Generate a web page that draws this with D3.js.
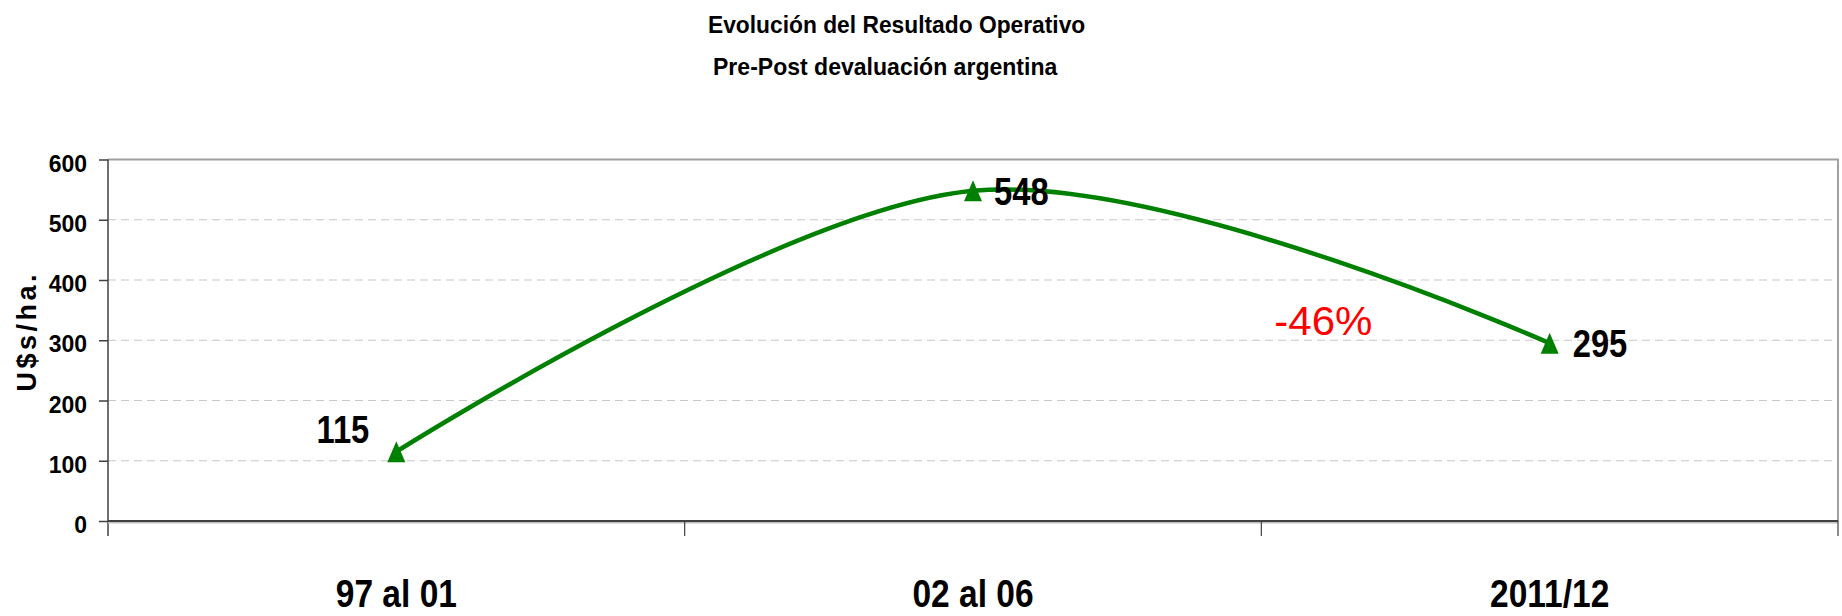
<!DOCTYPE html>
<html>
<head>
<meta charset="utf-8">
<script src="https://cdn.jsdelivr.net/npm/d3@7"></script>
<style>
  body { margin: 0; background: #fff; }
  svg { display: block; }
  text { font-family: "Liberation Sans", Arial, sans-serif; }
</style>
</head>
<body>
<svg id="chart" width="1842" height="616"></svg>
<script>
// chart data
const categories = ['97 al 01', '02 al 06', '2011/12'];
const values = [115, 548, 295];
const yTicks = [0, 100, 200, 300, 400, 500, 600];
const titleLines = ['Evolución del Resultado Operativo', 'Pre-Post devaluación argentina'];
const yLabel = 'U$s/ha.';
const changeLabel = '-46%';

const width = 1842, height = 616;
const margin = { top: 159.5, right: 4, bottom: 95, left: 108 };

const svg = d3.select('#chart');

const x = d3.scaleBand()
  .domain(categories)
  .range([margin.left, width - margin.right]);
const y = d3.scaleLinear()
  .domain([0, 600])
  .range([height - margin.bottom, margin.top]);

// text squeezed horizontally, the original uses a narrow face
const squeezed = (g, px, py, str, size, sx, anchor) =>
  g.append('text')
    .attr('transform', `translate(${px},${py}) scale(${sx},1)`)
    .attr('text-anchor', anchor || 'start')
    .attr('font-size', size)
    .attr('font-weight', 'bold')
    .text(str);

// titles
squeezed(svg, 708, 33, titleLines[0], 24, 0.95);
squeezed(svg, 713, 75, titleLines[1], 24, 0.96);

// dashed grid
svg.append('g')
  .selectAll('line')
  .data(yTicks.filter(d => d > 0 && d < 600))
  .join('line')
  .attr('x1', margin.left).attr('x2', width - margin.right)
  .attr('y1', d => y(d)).attr('y2', d => y(d))
  .attr('stroke', '#c8c8c8')
  .attr('stroke-width', 1.2)
  .attr('stroke-dasharray', '8,5');

// plot border (top + right)
svg.append('path')
  .attr('d', `M${margin.left},${y(600)}H${width - margin.right}V${y(0)}`)
  .attr('fill', 'none')
  .attr('stroke', '#a0a0a0')
  .attr('stroke-width', 2);

// y axis
const yAxis = svg.append('g')
  .attr('transform', `translate(${margin.left},0)`)
  .call(d3.axisLeft(y).tickValues(yTicks).tickSize(9).tickPadding(12));
yAxis.select('.domain').remove();
yAxis.selectAll('.tick line').attr('stroke', '#404040').attr('stroke-width', 1.5);
yAxis.selectAll('.tick text')
  .attr('font-size', 23).attr('font-weight', 'bold')
  .attr('fill', '#000')
  .attr('dy', '0.5em')
  .style('font-family', '"Liberation Sans", Arial, sans-serif');
yAxis.attr('font-family', null);
svg.append('line')
  .attr('x1', margin.left).attr('x2', margin.left)
  .attr('y1', y(600)).attr('y2', y(0) + 15)
  .attr('stroke', '#404040').attr('stroke-width', 1.5);

// x axis: baseline + separators between categories
svg.append('line')
  .attr('x1', margin.left).attr('x2', width - margin.right)
  .attr('y1', y(0) + 1.5).attr('y2', y(0) + 1.5)
  .attr('stroke', '#c0c0c0').attr('stroke-width', 2);
svg.append('line')
  .attr('x1', margin.left).attr('x2', width - margin.right)
  .attr('y1', y(0)).attr('y2', y(0))
  .attr('stroke', '#404040').attr('stroke-width', 2);
svg.append('g')
  .selectAll('line')
  .data(categories)
  .join('line')
  .attr('x1', d => x(d) + x.step())
  .attr('x2', d => x(d) + x.step())
  .attr('y1', y(0)).attr('y2', y(0) + 15)
  .attr('stroke', '#404040').attr('stroke-width', 1.2);

const xLabels = svg.append('g');
categories.forEach(c => squeezed(xLabels, x(c) + x.bandwidth() / 2, 607, c, 39, 0.86, 'middle'));

// y label
svg.append('text')
  .attr('transform', `translate(36,${(y(0) + y(600)) / 2 - 9}) rotate(-90)`)
  .attr('text-anchor', 'middle')
  .attr('font-size', 27).attr('font-weight', 'bold')
  .attr('letter-spacing', 3.5)
  .text(yLabel);

// the line
const pts = categories.map((c, i) => [x(c) + x.bandwidth() / 2, y(values[i])]);
const line = d3.line().curve(d3.curveCardinal.tension(0));
svg.append('path')
  .attr('d', line(pts))
  .attr('fill', 'none')
  .attr('stroke', '#008000')
  .attr('stroke-width', 4.5)
  .attr('stroke-linejoin', 'round');

// triangle markers
svg.append('g')
  .selectAll('path')
  .data(pts)
  .join('path')
  .attr('transform', d => `translate(${d[0]},${d[1]})`)
  .attr('d', 'M0,-10.5L9,10.5L-9,10.5Z')
  .attr('fill', '#008000');

// value labels
const labelPos = [
  { dx: -27, dy: -9, anchor: 'end' },
  { dx: 21, dy: 14, anchor: 'start' },
  { dx: 23, dy: 14, anchor: 'start' }
];
const valueLabels = svg.append('g');
values.forEach((v, i) => squeezed(valueLabels, pts[i][0] + labelPos[i].dx, pts[i][1] + labelPos[i].dy,
  v, 39, 0.84, labelPos[i].anchor));

// change annotation
svg.append('text')
  .attr('transform', `translate(${margin.left + x.step() * 2 + 62},${y(300) - 5}) scale(1.05,1)`)
  .attr('text-anchor', 'middle')
  .attr('font-size', 40)
  .attr('fill', '#ff0000')
  .text(changeLabel);
</script>
</body>
</html>
